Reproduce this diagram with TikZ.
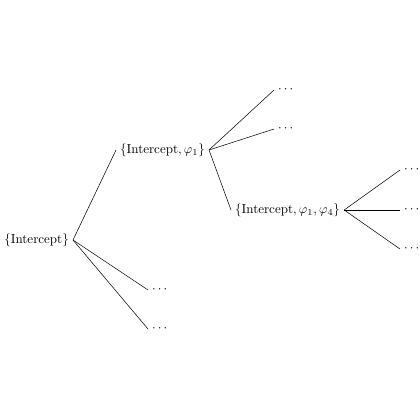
\documentclass[tikz,border=0pt]{standalone}
\begin{document}
\begin{tikzpicture}[x=0.767pt,y=-0.767pt,
  lbl/.style={inner sep=3pt},
  edge/.style={draw=black,line width=0.4pt}]
\useasboundingbox (0,0) rectangle (420,420);
\node[lbl,anchor=east] (root) at (73,240) {$\{\mathrm{Intercept}\}$};
\node[lbl,anchor=west] (c1) at (116,150) {$\{\mathrm{Intercept},\varphi_1\}$};
\node[lbl,anchor=west] (d1) at (148,290) {$\cdots$};
\node[lbl,anchor=west] (d2) at (148,329) {$\cdots$};
\node[lbl,anchor=west] (d3) at (274,90) {$\cdots$};
\node[lbl,anchor=west] (d4) at (274,129) {$\cdots$};
\node[lbl,anchor=west] (c2) at (231,210) {$\{\mathrm{Intercept},\varphi_1,\varphi_4\}$};
\node[lbl,anchor=west] (d5) at (400,170) {$\cdots$};
\node[lbl,anchor=west] (d6) at (400,210) {$\cdots$};
\node[lbl,anchor=west] (d7) at (400,249) {$\cdots$};
\draw[edge] (root.east) -- (c1.west);
\draw[edge] (root.east) -- (d1.west);
\draw[edge] (root.east) -- (d2.west);
\draw[edge] (c1.east) -- (d3.west);
\draw[edge] (c1.east) -- (d4.west);
\draw[edge] (c1.east) -- (c2.west);
\draw[edge] (c2.east) -- (d5.west);
\draw[edge] (c2.east) -- (d6.west);
\draw[edge] (c2.east) -- (d7.west);
\end{tikzpicture}
\end{document}
